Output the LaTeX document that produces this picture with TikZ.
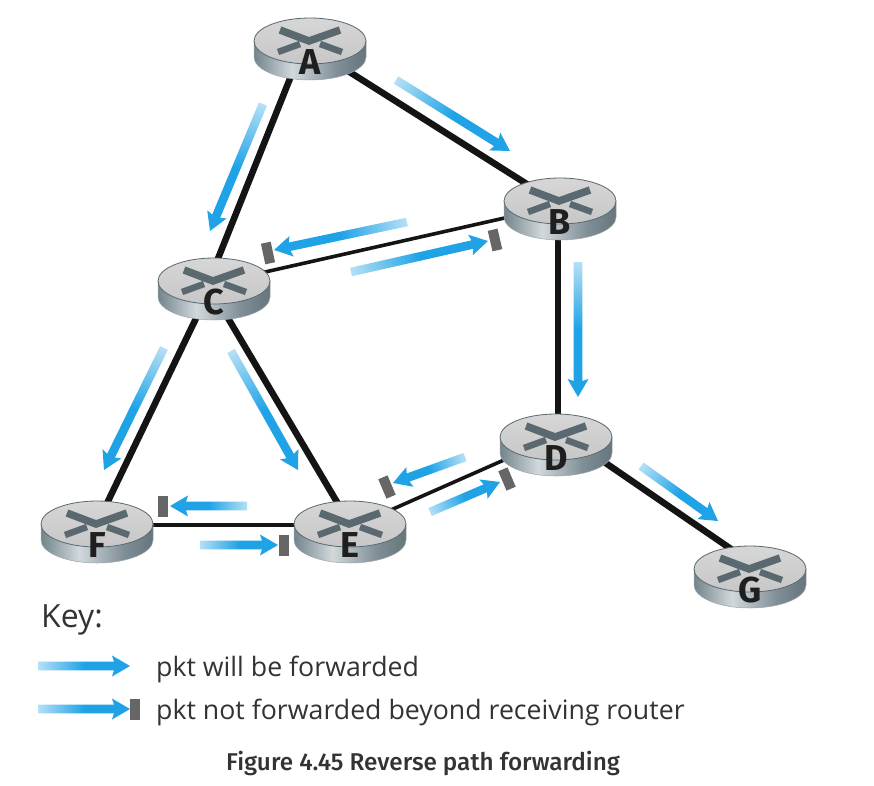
\documentclass[tikz,border=0pt]{standalone}
\usepackage{fontspec}
\usetikzlibrary{shapes.geometric,calc,backgrounds}
\setmainfont{Open Sans}
\newfontfamily\capfont{Fira Sans Medium}
\newfontfamily\letterfont{Fira Sans}[UprightFont={* Bold}]
\definecolor{pktblue}{HTML}{1FA3E6}
\definecolor{pktlight}{HTML}{B5E0F6}
\definecolor{blockgray}{HTML}{666666}
\definecolor{xdark}{HTML}{5A696F}
\definecolor{inkgray}{HTML}{333333}
\pgfdeclarehorizontalshading{routerbody}{100bp}{
  rgb(0bp)=(0.45,0.52,0.55);
  rgb(25bp)=(0.45,0.52,0.55);
  rgb(42bp)=(0.82,0.85,0.86);
  rgb(62bp)=(0.50,0.56,0.59);
  rgb(75bp)=(0.40,0.46,0.49);
  rgb(100bp)=(0.40,0.46,0.49)}
\tikzset{
  x=1pt,y=-1pt,
  thicklink/.style={line width=6.5pt,black!92},
  thinlink/.style={line width=3.6pt,black!92},
  routertop/.style={ellipse,inner sep=0pt,minimum width=112pt,minimum height=46pt,
    draw=xdark,line width=.8pt,top color=black!16,bottom color=black!22},
  routerside/.style={draw=xdark!60,line width=.5pt,shading=routerbody},
  routerx/.style={xdark,line width=7.5pt},
  routerxlow/.style={xdark,line width=6.5pt},
  routerlabel/.style={font=\letterfont\fontsize{36}{36}\selectfont,text=black!88,inner sep=0pt},
  blockmark/.style={fill=blockgray,inner sep=0pt,minimum width=10pt,minimum height=21pt},
  keytext/.style={anchor=base west,inner sep=0pt,text=inkgray,font=\fontsize{26.7}{30}\selectfont},
}
\newcommand{\router}[3]{%
  \begin{scope}[shift={(#2,#3)}]
    \shade[routerside] (-56,0) -- (-56,16) arc[start angle=180,end angle=360,x radius=56,y radius=-23] -- (56,0) -- cycle;
    \node[routertop] (#1) at (0,0) {};
    \draw[routerx] (-30,-11) -- (-1,0) -- (30,-11);
    \draw[routerxlow] (-32,11) -- (-10,3);
    \draw[routerxlow] (32,11) -- (10,3);
    \node[routerlabel] (#1-label) at (0,21) {#1};
  \end{scope}}
\newcommand{\pktarrow}[2]{%
  \path let \p1=($(#2)-(#1)$) in \pgfextra{%
    \pgfmathsetmacro\pktang{atan2(\y1,\x1)}\global\let\pktang\pktang
    \pgfmathsetmacro\pktlen{veclen(\x1,\y1)}\global\let\pktlen\pktlen};
  \begin{scope}[transform canvas={shift={(#1)},rotate=\pktang}]
    \shade[left color=pktlight,right color=pktblue,middle color=pktblue]
      (0,-4.3) -- ({\pktlen-16},-4.3) -- ({\pktlen-18},-10.5) -- (\pktlen,0)
      -- ({\pktlen-18},10.5) -- ({\pktlen-16},4.3) -- (0,4.3) -- cycle;
  \end{scope}}
\begin{document}
\begin{tikzpicture}
\useasboundingbox (0,0) rectangle (874,785);
% routers
\router{A}{310}{41}
\router{B}{560}{201}
\router{C}{214}{281}
\router{D}{556}{437}
\router{E}{350}{524}
\router{F}{97}{524}
\router{G}{750}{569}
% links
\begin{scope}[on background layer]
  \fill[white] (0,0) rectangle (874,785);
  \draw[thicklink] ([xshift=-5pt]A.center) -- ([xshift=-5pt]C.center);
  \draw[thicklink] ([yshift=-6pt]A.center) -- ([yshift=-4pt]B.center);
  \draw[thicklink] ([xshift=-2pt]B.center) -- ([xshift=2pt]D.center);
  \draw[thicklink] (C.center) -- (F.center);
  \draw[thicklink] ([xshift=-8pt]C.center) -- (E.center);
  \draw[thicklink] ([yshift=8pt]D.center) -- ([yshift=7pt]G.center);
  \draw[thinlink] ([yshift=-2.5pt]C.center) -- ([yshift=-4.5pt]B.center);
  \draw[thinlink] ([yshift=-4pt]E.center) -- (D.center);
  \draw[thinlink] ([yshift=-1pt]F.center) -- ([yshift=-1pt]E.center);
\end{scope}
% arrow end points
\coordinate (ac1) at (263,104);  \coordinate (ac2) at (210,231);
\coordinate (ab1) at (396,80);   \coordinate (ab2) at (510,151);
\coordinate (bc1) at (407,222);  \coordinate (bc2) at (274,250);
\coordinate (cb1) at (351,272);  \coordinate (cb2) at (488,241);
\coordinate (bd1) at (578,262);  \coordinate (bd2) at (578,397);
\coordinate (cf1) at (164,348);  \coordinate (cf2) at (104,470);
\coordinate (ce1) at (231,351);  \coordinate (ce2) at (298,470);
\coordinate (de1) at (465,457);  \coordinate (de2) at (393,483);
\coordinate (ed1) at (430,512);  \coordinate (ed2) at (500,482);
\coordinate (ef1) at (247,506);  \coordinate (ef2) at (170,506);
\coordinate (fe1) at (200,545);  \coordinate (fe2) at (278,545);
\coordinate (dg1) at (641,466);  \coordinate (dg2) at (718,521);
\coordinate (k11) at (38,666);   \coordinate (k12) at (130,666);
\coordinate (k21) at (38,709);   \coordinate (k22) at (130,709);
\pktarrow{ac1}{ac2}
\pktarrow{ab1}{ab2}
\pktarrow{bc1}{bc2}
\pktarrow{cb1}{cb2}
\pktarrow{bd1}{bd2}
\pktarrow{cf1}{cf2}
\pktarrow{ce1}{ce2}
\pktarrow{de1}{de2}
\pktarrow{ed1}{ed2}
\pktarrow{ef1}{ef2}
\pktarrow{fe1}{fe2}
\pktarrow{dg1}{dg2}
\pktarrow{k11}{k12}
\pktarrow{k21}{k22}
% blocks
\node[blockmark,rotate=12] (b1) at (268,253) {};
\node[blockmark,rotate=13] (b2) at (495,240) {};
\node[blockmark,rotate=23] (b3) at (387,487) {};
\node[blockmark,rotate=23] (b4) at (507,479) {};
\node[blockmark] (b5) at (163,506) {};
\node[blockmark] (b6) at (284,545) {};
\node[blockmark] (b7) at (135,709) {};
% key
\node[keytext,font=\fontsize{32}{34}\selectfont] (key) at (41,627) {Key:};
\node[keytext] (k1) at (156,676) {pkt will be forwarded};
\node[keytext] (k2) at (156,719) {pkt not forwarded beyond receiving router};
\node[keytext,font=\capfont\fontsize{24.3}{28}\selectfont] (cap) at (226,770) {Figure 4.45 Reverse path forwarding};
\end{tikzpicture}
\end{document}
